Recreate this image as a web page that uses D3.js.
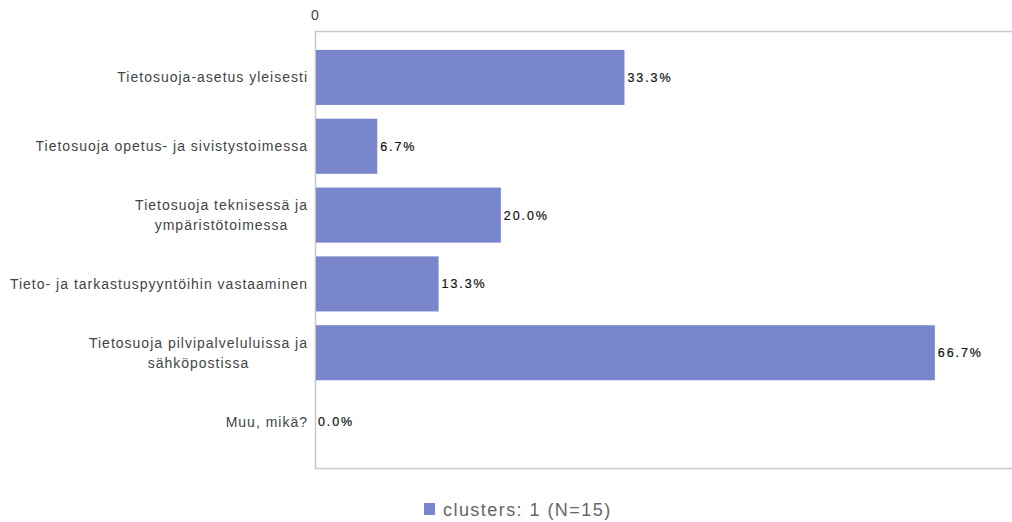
<!DOCTYPE html>
<html><head><meta charset="utf-8">
<script src="https://cdn.jsdelivr.net/npm/d3@7"></script>
<style>body{margin:0;background:#fff;}svg{display:block;}</style>
</head><body>
<svg id="chart" width="1012" height="522"></svg>
<script>
const categories = [
  ["Tietosuoja-asetus yleisesti"],
  ["Tietosuoja opetus- ja sivistystoimessa"],
  ["Tietosuoja teknisessä ja", "ympäristötoimessa"],
  ["Tieto- ja tarkastuspyyntöihin vastaaminen"],
  ["Tietosuoja pilvipalveluluissa ja", "sähköpostissa"],
  ["Muu, mikä?"]
];
const values = [33.3, 6.7, 20.0, 13.3, 66.7, 0.0];
const seriesName = "clusters: 1 (N=15)";
const xTicks = [0];

(function() {
const svg = d3.select("#chart");
const pLeft = 315, pRight = 1012, pTop = 31, pBottom = 468;
const color = "#7986cb";
const font = "Arial, 'Liberation Sans', sans-serif";

const x = d3.scaleLinear().domain([0, 75]).range([pLeft, pRight]);
const y = d3.scaleBand().domain(d3.range(categories.length)).range([43, 456]).paddingInner(0.2).paddingOuter(0.1);

svg.append("line").attr("x1", pLeft).attr("x2", pRight).attr("y1", pTop + 0.5).attr("y2", pTop + 0.5).attr("stroke", "#c8c8c8").attr("stroke-width", 1.5);
svg.append("line").attr("x1", pLeft).attr("x2", pRight).attr("y1", pBottom + 0.5).attr("y2", pBottom + 0.5).attr("stroke", "#c8c8c8").attr("stroke-width", 1.5);
svg.append("line").attr("x1", pLeft + 0.5).attr("x2", pLeft + 0.5).attr("y1", pTop).attr("y2", pBottom + 1).attr("stroke", "#c8c8c8").attr("stroke-width", 1.5);

svg.selectAll(".xt").data(xTicks).enter().append("text")
  .attr("x", d => x(d)).attr("y", 20).attr("text-anchor", "middle")
  .attr("font-family", font).attr("font-size", 14).attr("fill", "#444")
  .text(d => d);

svg.selectAll(".bar").data(values).enter().append("rect")
  .attr("x", x(0) + 1).attr("y", (d, i) => y(i))
  .attr("width", d => Math.max(0, x(d) - x(0) - 1)).attr("height", y.bandwidth())
  .attr("fill", color);

svg.selectAll(".vl").data(values).enter().append("text")
  .attr("x", d => x(d) + 3).attr("y", (d, i) => y(i) + y.bandwidth() / 2 + 4.5)
  .attr("font-family", font).attr("font-size", 12.5)
  .attr("letter-spacing", 1.9).attr("fill", "#111").attr("stroke", "#111").attr("stroke-width", 0.2)
  .text(d => d.toFixed(1) + "%");

const cl = svg.selectAll(".cl").data(categories).enter().append("text")
  .attr("font-family", font).attr("font-size", 14).attr("fill", "#444")
  .attr("letter-spacing", 1)
  .attr("text-anchor", "start");
cl.each(function(lines, i) {
  const t = d3.select(this);
  const cy = y(i) + y.bandwidth() / 2;
  const lh = 20;
  const y0 = cy - (lines.length - 1) * lh / 2 + 5;
  lines.forEach((ln, k) => {
    t.append("tspan").attr("y", y0 + k * lh).text(ln);
  });
  const tsp = t.selectAll("tspan").nodes();
  const ws = tsp.map(n => n.getComputedTextLength() - 1);
  const w = d3.max(ws);
  const cx = pLeft - 8 - w / 2;
  t.selectAll("tspan").attr("x", (d, k) => cx - ws[k] / 2);
});

const lg = svg.append("g");
lg.append("rect").attr("x", 424).attr("y", 503).attr("width", 11).attr("height", 12).attr("fill", color);
lg.append("text").attr("x", 443).attr("y", 516).attr("font-family", font)
  .attr("font-size", 18).attr("letter-spacing", 1.45).attr("fill", "#666").text(seriesName);
})();
</script>
</body></html>
